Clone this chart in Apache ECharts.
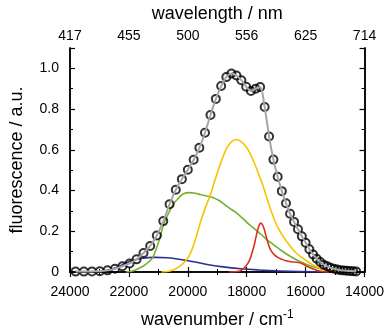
<!DOCTYPE html>
<html>
<head>
<meta charset="utf-8">
<script src="https://cdn.jsdelivr.net/npm/echarts@6/dist/echarts.min.js"></script>
<style>
  html, body { margin: 0; padding: 0; background: #fff; }
  #chart { width: 387px; height: 334px; }
</style>
</head>
<body>
<div id="chart"></div>
<script>
// measured spectrum (circles), wavenumber in cm-1
var measuredWn = [23810, 23529, 23256, 22989, 22727, 22472, 22222, 21978, 21739, 21505,
  21277, 21053, 20833, 20619, 20408, 20202, 20000, 19802, 19608, 19417,
  19231, 19048, 18868, 18692, 18519, 18349, 18182, 18018, 17857, 17699,
  17544, 17391, 17241, 17094, 16949, 16807, 16667, 16529, 16393, 16260,
  16129, 16000, 15873, 15748, 15625, 15504, 15385, 15267, 15152, 15038,
  14925, 14815, 14706, 14599, 14493, 14388, 14286];
var measuredVal = [0.002, 0.002, 0.003, 0.004, 0.008, 0.016, 0.028, 0.042, 0.062, 0.093,
  0.128, 0.179, 0.25, 0.333, 0.404, 0.456, 0.502, 0.551, 0.61, 0.684,
  0.771, 0.85, 0.913, 0.957, 0.975, 0.965, 0.942, 0.91, 0.889, 0.9,
  0.908, 0.81, 0.665, 0.552, 0.468, 0.397, 0.338, 0.286, 0.246, 0.21,
  0.175, 0.144, 0.112, 0.086, 0.065, 0.049, 0.036, 0.028, 0.021, 0.016,
  0.012, 0.009, 0.007, 0.006, 0.005, 0.004, 0.003];

// fitted components [wavenumber, value]
var blueBand = [[23000, 0], [22900, 0.004], [22600, 0.013], [22300, 0.03], [22000, 0.05],
  [21600, 0.066], [21100, 0.072], [20700, 0.07], [20300, 0.063], [19800, 0.05],
  [19300, 0.036], [18800, 0.025], [18200, 0.016], [17600, 0.01], [16900, 0.005],
  [16200, 0.002], [15500, 0.001], [14800, 0]];
var greenBand = [[22100, 0], [21900, 0.004], [21700, 0.015], [21450, 0.035], [21250, 0.06],
  [21160, 0.08], [20940, 0.17], [20830, 0.23], [20650, 0.29], [20490, 0.333],
  [20300, 0.365], [20150, 0.384], [19950, 0.39], [19750, 0.387], [19590, 0.381],
  [19350, 0.373], [19140, 0.365], [18950, 0.352], [18800, 0.337], [18600, 0.315],
  [18350, 0.29], [18100, 0.258], [17900, 0.231], [17630, 0.2], [17340, 0.162],
  [17050, 0.13], [16790, 0.102], [16500, 0.075], [16200, 0.052], [15900, 0.033],
  [15600, 0.02], [15300, 0.01], [15000, 0.004], [14800, 0]];
var yellowBand = [[20900, 0], [20600, 0.005], [20300, 0.025], [20100, 0.05], [19950, 0.08],
  [19815, 0.128], [19590, 0.235], [19420, 0.31], [19250, 0.373], [19080, 0.45],
  [18920, 0.52], [18780, 0.575], [18640, 0.618], [18500, 0.642], [18350, 0.651],
  [18200, 0.642], [18020, 0.615], [17880, 0.58], [17740, 0.535], [17570, 0.47],
  [17450, 0.425], [17230, 0.325], [16950, 0.22], [16670, 0.155], [16340, 0.096],
  [16000, 0.058], [15660, 0.027], [15400, 0.014], [15200, 0.008], [14950, 0]];
var redBand = [[18600, 0], [18250, 0.004], [18100, 0.018], [17950, 0.045], [17850, 0.08],
  [17750, 0.13], [17680, 0.175], [17600, 0.22], [17520, 0.24], [17440, 0.225],
  [17340, 0.175], [17250, 0.13], [17175, 0.105], [17050, 0.083], [16950, 0.072],
  [16800, 0.062], [16670, 0.055], [16500, 0.05], [16330, 0.048], [16200, 0.045],
  [16110, 0.04], [15950, 0.028], [15830, 0.02], [15600, 0.007], [15400, 0.002], [15200, 0]];

// tick labels
var wnTicks = [24000, 22000, 20000, 18000, 16000, 14000];
var wlLabels = ['417', '455', '500', '556', '625', '714'];

var measured = measuredWn.map(function (w, i) { return [w, measuredVal[i]]; });

var font = 'Liberation Sans, Arial, sans-serif';
var black = '#000';

function xAxisBase(pos) {
  return {
    type: 'value',
    position: pos,
    min: 14000,
    max: 24000,
    interval: 2000,
    inverse: true,
    axisLine: { lineStyle: { color: black, width: 1.5 } },
    axisTick: { inside: true, length: 5, lineStyle: { color: black, width: 1.2 } },
    minorTick: { show: true, splitNumber: 2, length: 3, lineStyle: { color: black, width: 1 } },
    splitLine: { show: false },
    axisLabel: { color: black, fontSize: 14, fontFamily: font }
  };
}

function yAxisBase(pos, interval, len, labels) {
  return {
    type: 'value',
    position: pos,
    min: 0,
    max: 1.1,
    interval: interval,
    axisLine: { show: true, lineStyle: { color: black, width: 1.5 } },
    axisTick: { inside: true, length: len, lineStyle: { color: black, width: len > 4 ? 1.2 : 1 } },
    splitLine: { show: false },
    axisLabel: labels ? {
      color: black, fontSize: 14, fontFamily: font, margin: 11,
      formatter: function (v) {
        if (v > 1.05) return '';
        return v === 0 ? '0' : v.toFixed(1);
      }
    } : { show: false }
  };
}

var bottomX = xAxisBase('bottom');
bottomX.axisLabel.margin = 13;
bottomX.axisLabel.formatter = function (v) { return String(v); };
bottomX.name = 'wavenumber / cm{sup|-1}';
bottomX.nameLocation = 'middle';
bottomX.nameGap = 37;
bottomX.nameTextStyle = {
  color: black, fontSize: 18, fontFamily: font,
  rich: { sup: { fontSize: 12, fontFamily: font, color: black, padding: [0, 0, 10, 0] } }
};

var topX = xAxisBase('top');
topX.axisLabel.margin = 5;
topX.axisLabel.formatter = function (v) {
  var i = wnTicks.indexOf(v);
  return i >= 0 ? wlLabels[i] : '';
};
topX.name = 'wavelength / nm';
topX.nameLocation = 'middle';
topX.nameGap = 25;
topX.nameTextStyle = { color: black, fontSize: 18, fontFamily: font };

var leftY = yAxisBase('left', 0.2, 5, true);
leftY.name = 'fluorescence / a.u.';
leftY.nameLocation = 'middle';
leftY.nameGap = 44;
leftY.nameTextStyle = { color: black, fontSize: 18, fontFamily: font };

var chart = echarts.init(document.getElementById('chart'));
chart.setOption({
  animation: false,
  grid: { left: 69, right: 21, top: 45, bottom: 57 },
  xAxis: [bottomX, topX],
  yAxis: [
    leftY,
    yAxisBase('left', 0.1, 3, false),
    yAxisBase('right', 0.2, 5, false),
    yAxisBase('right', 0.1, 3, false)
  ],
  series: [
    { name: 'blue', type: 'line', data: blueBand, smooth: 0.4, showSymbol: false,
      lineStyle: { color: '#2b2f8f', width: 1.6 }, z: 2 },
    { name: 'green', type: 'line', data: greenBand, smooth: 0.4, showSymbol: false,
      lineStyle: { color: '#72b230', width: 1.6 }, z: 2 },
    { name: 'yellow', type: 'line', data: yellowBand, smooth: 0.4, showSymbol: false,
      lineStyle: { color: '#f5c400', width: 1.6 }, z: 2 },
    { name: 'red', type: 'line', data: redBand, smooth: 0.4, showSymbol: false,
      lineStyle: { color: '#d9301c', width: 1.6 }, z: 2 },
    { name: 'measured', type: 'scatter', data: measured, symbol: 'circle', symbolSize: 8,
      itemStyle: { color: 'rgba(255,255,255,0)', borderColor: '#000', borderWidth: 2 }, z: 3 },
    { name: 'fit', type: 'line', data: measured, smooth: 0.3, showSymbol: false,
      lineStyle: { color: '#a5a5a5', width: 2 }, z: 4 }
  ]
});
</script>
</body>
</html>
